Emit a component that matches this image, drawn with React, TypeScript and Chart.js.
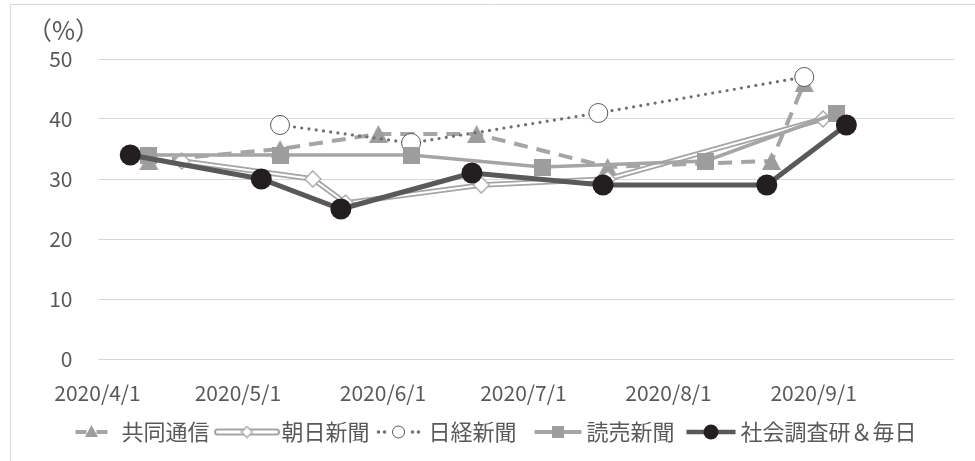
import React, { useEffect, useRef } from "react";
import { Chart, registerables } from "chart.js";
Chart.register(...registerables);

// ---- data ----
const monthTicks = ["2020-04-01", "2020-05-01", "2020-06-01", "2020-07-01", "2020-08-01", "2020-09-01", "2020-10-01"];
const monthTickLabels = ["2020/4/1", "2020/5/1", "2020/6/1", "2020/7/1", "2020/8/1", "2020/9/1", ""];
const yMin = 0;
const yMax = 50;
const yStep = 10;
const yUnitLabel = "（%）";

const seriesNames = ["共同通信", "朝日新聞", "日経新聞", "読売新聞", "社会調査研＆毎日"];

const kyodoDates = ["2020-04-12", "2020-05-10", "2020-05-31", "2020-06-21", "2020-07-19", "2020-08-23", "2020-08-30"];
const kyodoValues = [33, 35, 37.5, 37.5, 32, 33, 46];

const asahiDates = ["2020-04-19", "2020-05-17", "2020-05-24", "2020-06-22", "2020-07-19", "2020-09-03"];
const asahiValues = [33, 30, 26, 29, 30, 40];

const nikkeiDates = ["2020-05-10", "2020-06-07", "2020-07-17", "2020-08-30"];
const nikkeiValues = [39, 36, 41, 47];

const yomiuriDates = ["2020-04-12", "2020-05-10", "2020-06-07", "2020-07-05", "2020-08-09", "2020-09-06"];
const yomiuriValues = [34, 34, 34, 32, 33, 41];

const ssrcDates = ["2020-04-08", "2020-05-06", "2020-05-23", "2020-06-20", "2020-07-18", "2020-08-22", "2020-09-08"];
const ssrcValues = [34, 30, 25, 31, 29, 29, 39];

// ---- helpers ----
const dayOf = (s: string) => {
  const [y, m, d] = s.split("-").map(Number);
  return (Date.UTC(y, m - 1, d) - Date.UTC(2020, 3, 1)) / 86400000;
};
const pts = (dates: string[], vals: number[]) => dates.map((d, i) => ({ x: dayOf(d), y: vals[i] }));

const GRAY = "#a5a5a5";
const MARK_GRAY = "#9d9d9d";
const DARK = "#595959";
const BLACK = "#231f20";
const TEXT = "#595959";
const FONT = '"Noto Sans CJK JP", "Noto Sans", sans-serif';

function makeCanvas(w: number, h: number, draw: (c: CanvasRenderingContext2D) => void) {
  const c = document.createElement("canvas");
  c.width = w;
  c.height = h;
  const ctx = c.getContext("2d")!;
  draw(ctx);
  return c;
}
const triangle = (w: number, h: number, fill: string) =>
  makeCanvas(w, h, (c) => {
    c.fillStyle = fill;
    c.beginPath();
    c.moveTo(w / 2, 0);
    c.lineTo(w, h);
    c.lineTo(0, h);
    c.closePath();
    c.fill();
  });
const square = (s: number, fill: string) =>
  makeCanvas(s, s, (c) => {
    c.fillStyle = fill;
    c.fillRect(0, 0, s, s);
  });
const diamond = (s: number, stroke: string) =>
  makeCanvas(s, s, (c) => {
    c.fillStyle = "#fff";
    c.strokeStyle = stroke;
    c.lineWidth = 1.3;
    c.beginPath();
    c.moveTo(s / 2, 1);
    c.lineTo(s - 1, s / 2);
    c.lineTo(s / 2, s - 1);
    c.lineTo(1, s / 2);
    c.closePath();
    c.fill();
    c.stroke();
  });

// ---- plugins ----
const framePlugin = {
  id: "frame",
  beforeDraw(chart: any) {
    const ctx = chart.ctx;
    ctx.save();
    ctx.fillStyle = "#fff";
    ctx.fillRect(0, 0, chart.width, chart.height);
    ctx.strokeStyle = "#d9d9d9";
    ctx.lineWidth = 1;
    ctx.beginPath();
    ctx.moveTo(10.5, chart.height + 2);
    ctx.lineTo(10.5, 4.5);
    ctx.lineTo(chart.width + 2, 4.5);
    ctx.stroke();
    ctx.restore();
  },
  afterDraw(chart: any) {
    const ctx = chart.ctx;
    const area = chart.chartArea;
    ctx.save();
    ctx.fillStyle = TEXT;
    ctx.font = `25px ${FONT}`;
    ctx.textAlign = "center";
    ctx.textBaseline = "middle";
    ctx.fillText(yUnitLabel, area.left - 34, area.top - 29);
    ctx.restore();
  },
};

type LegendItem = { name: string; kind: string; symW: number; gapSym: number; gapAfter: number };

const legendPlugin = {
  id: "customLegend",
  afterDraw(chart: any) {
    const ctx: CanvasRenderingContext2D = chart.ctx;
    const items: LegendItem[] = [
      { name: seriesNames[0], kind: "kyodo", symW: 32, gapSym: 14, gapAfter: 4 },
      { name: seriesNames[1], kind: "asahi", symW: 67, gapSym: 1, gapAfter: 6 },
      { name: seriesNames[2], kind: "nikkei", symW: 46, gapSym: 7, gapAfter: 18 },
      { name: seriesNames[3], kind: "yomiuri", symW: 47, gapSym: 5, gapAfter: 12 },
      { name: seriesNames[4], kind: "ssrc", symW: 49, gapSym: 5, gapAfter: 0 },
    ];
    ctx.save();
    ctx.font = `22px ${FONT}`;
    const widths = items.map((it) => ctx.measureText(it.name).width);
    const total = items.reduce((s, it, i) => s + it.symW + it.gapSym + widths[i] + it.gapAfter, 0);
    let x = 496 - total / 2;
    const y = 432;
    items.forEach((it, i) => {
      const x0 = x;
      const x1 = x + it.symW;
      const mid = (x0 + x1) / 2;
      ctx.setLineDash([]);
      if (it.kind === "kyodo") {
        ctx.strokeStyle = GRAY;
        ctx.lineWidth = 4;
        ctx.beginPath();
        ctx.moveTo(x0, y);
        ctx.lineTo(mid - 5, y);
        ctx.moveTo(mid + 5, y);
        ctx.lineTo(x1, y);
        ctx.stroke();
        ctx.drawImage(triangle(13, 12, MARK_GRAY), mid - 6.5, y - 7);
      } else if (it.kind === "asahi") {
        ctx.lineCap = "round";
        ctx.strokeStyle = GRAY;
        ctx.lineWidth = 7;
        ctx.beginPath();
        ctx.moveTo(x0 + 4, y);
        ctx.lineTo(x1 - 4, y);
        ctx.stroke();
        ctx.strokeStyle = "#fff";
        ctx.lineWidth = 3;
        ctx.beginPath();
        ctx.moveTo(x0 + 4, y);
        ctx.lineTo(x1 - 4, y);
        ctx.stroke();
        ctx.lineCap = "butt";
        ctx.drawImage(diamond(13, GRAY), mid - 6.5, y - 6.5);
      } else if (it.kind === "nikkei") {
        ctx.fillStyle = "#6f6f6f";
        [x0 + 3, x0 + 9, x1 - 9, x1 - 3].forEach((dx) => {
          ctx.beginPath();
          ctx.arc(dx, y, 1.8, 0, Math.PI * 2);
          ctx.fill();
        });
        ctx.fillStyle = "#fff";
        ctx.strokeStyle = DARK;
        ctx.lineWidth = 1;
        ctx.beginPath();
        ctx.arc(mid, y, 6, 0, Math.PI * 2);
        ctx.fill();
        ctx.stroke();
      } else if (it.kind === "yomiuri") {
        ctx.strokeStyle = GRAY;
        ctx.lineWidth = 4;
        ctx.beginPath();
        ctx.moveTo(x0, y);
        ctx.lineTo(x1, y);
        ctx.stroke();
        ctx.fillStyle = MARK_GRAY;
        ctx.fillRect(mid - 6, y - 6, 12, 12);
      } else {
        ctx.strokeStyle = DARK;
        ctx.lineWidth = 4.5;
        ctx.beginPath();
        ctx.moveTo(x0, y);
        ctx.lineTo(x1, y);
        ctx.stroke();
        ctx.fillStyle = BLACK;
        ctx.beginPath();
        ctx.arc(mid, y, 7.5, 0, Math.PI * 2);
        ctx.fill();
      }
      ctx.fillStyle = TEXT;
      ctx.textAlign = "left";
      ctx.textBaseline = "middle";
      ctx.fillText(it.name, x1 + it.gapSym, y);
      x = x1 + it.gapSym + widths[i] + it.gapAfter;
    });
    ctx.restore();
  },
};

export default function App() {
  const ref = useRef<HTMLCanvasElement>(null);
  useEffect(() => {
    document.body.style.margin = "0";
    if (!ref.current) return;
    const tickFont = { family: FONT, size: 21 };
    const chart = new Chart(ref.current, {
      type: "line",
      data: {
        datasets: [
          {
            label: seriesNames[0],
            data: pts(kyodoDates, kyodoValues),
            borderColor: GRAY,
            borderWidth: 4,
            borderDash: [14, 9],
            pointStyle: triangle(19, 18, MARK_GRAY) as any,
            pointRadius: 9,
            order: 5,
          },
          {
            label: seriesNames[1] + "_outer",
            data: pts(asahiDates, asahiValues),
            borderColor: GRAY,
            borderWidth: 5.5,
            pointRadius: 0,
            order: 4.6,
          },
          {
            label: seriesNames[1],
            data: pts(asahiDates, asahiValues),
            borderColor: "#ffffff",
            borderWidth: 2,
            pointStyle: diamond(18, GRAY) as any,
            pointRadius: 9,
            order: 4.5,
          },
          {
            label: seriesNames[2],
            data: pts(nikkeiDates, nikkeiValues),
            borderColor: "#6f6f6f",
            borderWidth: 3.2,
            borderDash: [0, 7.3],
            borderCapStyle: "round",
            pointStyle: "circle",
            pointRadius: 9.5,
            pointBackgroundColor: "#ffffff",
            pointBorderColor: DARK,
            pointBorderWidth: 1,
            order: 3,
          },
          {
            label: seriesNames[3],
            data: pts(yomiuriDates, yomiuriValues),
            borderColor: GRAY,
            borderWidth: 3.5,
            pointStyle: square(17, MARK_GRAY) as any,
            pointRadius: 8,
            order: 2,
          },
          {
            label: seriesNames[4],
            data: pts(ssrcDates, ssrcValues),
            borderColor: DARK,
            borderWidth: 5,
            pointStyle: "circle",
            pointRadius: 10.5,
            pointBackgroundColor: BLACK,
            pointBorderColor: BLACK,
            pointBorderWidth: 0,
            order: 1,
          },
        ],
      },
      options: {
        animation: false,
        responsive: false,
        devicePixelRatio: 1,
        layout: { padding: { left: 0, right: 8, top: 59, bottom: 52 } },
        plugins: { legend: { display: false }, tooltip: { enabled: false } },
        elements: { line: { tension: 0 } },
        scales: {
          x: {
            type: "linear",
            min: dayOf(monthTicks[0]),
            max: dayOf(monthTicks[monthTicks.length - 1]),
            grid: { display: false, drawTicks: false },
            border: { display: false },
            afterBuildTicks: (scale: any) => {
              scale.ticks = monthTicks.map((d) => ({ value: dayOf(d) }));
            },
            afterFit: (scale: any) => {
              scale.height = 50;
            },
            ticks: {
              autoSkip: false,
              maxRotation: 0,
              padding: 21,
              color: TEXT,
              font: tickFont,
              callback: (_v: any, i: number) => monthTickLabels[i],
            },
          },
          y: {
            min: yMin,
            max: yMax,
            grid: { color: "#d9d9d9", lineWidth: 1, drawTicks: false },
            border: { display: false },
            afterFit: (scale: any) => {
              scale.width = 97.5;
            },
            ticks: { stepSize: yStep, padding: 25, color: TEXT, font: tickFont },
          },
        },
      },
      plugins: [framePlugin, legendPlugin],
    } as any);
    return () => chart.destroy();
  }, []);
  return (
    <div style={{ width: 975, height: 461 }}>
      <canvas ref={ref} width={975} height={461} style={{ display: "block" }} />
    </div>
  );
}
